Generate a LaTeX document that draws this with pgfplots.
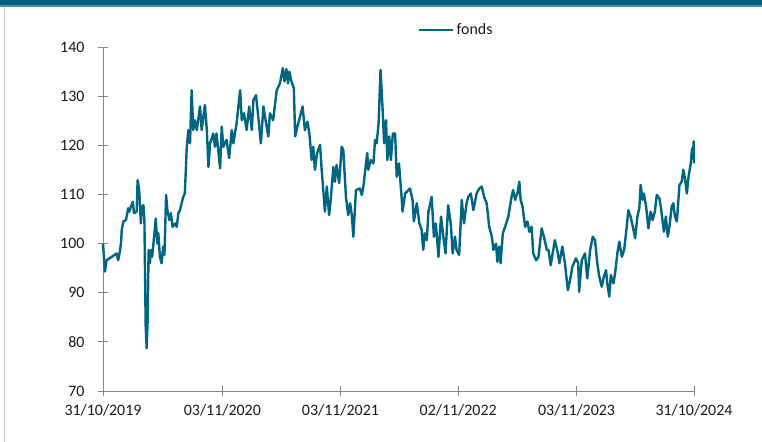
\documentclass[border=0pt]{standalone}
\usepackage{fontspec}
\setmainfont{Carlito}
\usepackage{pgfplots}
\pgfplotsset{compat=1.18}
\definecolor{fondline}{RGB}{0,101,128}
\definecolor{banner}{RGB}{0,95,122}
\definecolor{bannerlight}{RGB}{70,145,175}
\definecolor{axgray}{RGB}{134,134,134}
\begin{document}
\begin{tikzpicture}
\useasboundingbox (0,0) rectangle (762bp,442bp);
\fill[banner] (0,436.5bp) rectangle (762bp,442bp);
\fill[bannerlight] (0,435bp) rectangle (762bp,436.5bp);
\draw[gray!45, line width=1bp] (4.5bp,0) -- (4.5bp,435bp);
\begin{axis}[
  at={(103bp,51bp)}, anchor=south west,
  width=591bp, height=344bp, scale only axis,
  xmin=0, xmax=1827, ymin=70, ymax=140,
  axis x line*=bottom, axis y line*=left,
  axis line style={axgray, line width=0.8bp, -},
  tick style={axgray, line width=0.8bp},
  tick align=center, major tick length=10bp,
  xtick={0,369,734,1098,1464,1827},
  xticklabels={31/10/2019,03/11/2020,03/11/2021,02/11/2022,03/11/2023,31/10/2024},
  ytick={70,80,...,140},
  /pgf/number format/assume math mode=true,
  tick label style={font=\fontsize{16}{18}\selectfont, text=black!90},
  xticklabel style={yshift=-5bp},
  yticklabel style={xshift=-10bp},
  legend style={at={(0.533,1.049)}, anchor=west, draw=none, fill=none, inner sep=0pt,
    font=\fontsize{16}{18}\selectfont, text=black!90},
  legend image code/.code={\draw[#1, line width=2.5bp] (0bp,0bp) -- (34bp,0bp);},
  clip=false,
]
\addplot[fondline, line width=2.4bp, line join=round] coordinates {
(0,100) (6,94.3) (11,96.6) (27,97.3) (42,98) (47,96.6) (53,98.7) (56,100.4) (58,102.8) (63,104.5)
(71,104.8) (78,107.2) (81,106.5) (92,108.5) (96,106.2) (104,106.5) (107,112.9) (112,110.9) (117,104.1) (120,107.5)
(125,107.8) (128,104.8) (132,83.1) (135,78.7) (138,84.4) (141,98.7) (145,96) (148,98.7) (152,97.3) (159,102.1)
(163,105.1) (168,100) (171,102.1) (176,97.3) (181,96) (186,99.4) (190,97.7) (195,109.9) (199,106.8) (205,104.8)
(210,106.2) (215,103.4) (223,104.1) (228,103.4) (233,106.2) (238,106.8) (243,108.2) (248,109.5) (253,110.2) (259,119.7)
(264,123.1) (269,120.4) (274,131.2) (279,123.1) (284,125.1) (290,123.1) (300,127.9) (305,123.1) (315,128.2) (321,123.1)
(326,115.6) (331,120.4) (341,122.4) (346,119.7) (351,122.4) (362,115.3) (367,123.8) (372,119.7) (382,121.1) (390,117.4)
(398,123.1) (403,120.4) (413,124.5) (424,131.2) (429,125.1) (436,126.5) (444,123.1) (452,127.9) (460,123.1) (465,129.2)
(473,130.2) (480,125.8) (488,120.4) (496,127.9) (504,124.5) (511,121.8) (516,126.5) (526,125.1) (537,131.2) (547,132.6)
(556,135.7) (561,133) (567,135.5) (572,132.6) (576,135) (583,132.9) (590,131.6) (594,121.8) (601,123.8) (609,125.8)
(617,127.9) (624,123.1) (632,124.8) (638,122.4) (645,117) (650,119.7) (655,115) (662,118.4) (671,120.1) (676,115)
(681,110.9) (686,106.5) (692,111.6) (699,105.8) (704,108.9) (712,115.6) (717,112.6) (722,116) (730,112.3) (738,119.7)
(743,119) (751,109.5) (758,105.8) (764,108.2) (769,105.8) (774,101.4) (782,110.9) (794,111.2) (800,109.9) (805,111.6)
(813,116.3) (817,118.4) (820,115) (828,117) (836,116.3) (841,121.1) (846,120.4) (852,124.5) (858,135.3) (865,126.5)
(869,120.4) (875,125.1) (879,117) (885,121.8) (890,117) (896,122.4) (903,122.4) (908,113.6) (915,116.3) (923,109.5)
(926,106.5) (934,110.2) (949,111.2) (957,108.9) (961,104.5) (970,108.2) (978,104.1) (985,102.8) (990,98.7) (995,102.1)
(1001,100.7) (1006,106.5) (1016,109.5) (1023,101.4) (1029,104.1) (1037,97.3) (1045,105.5) (1052,101.4) (1059,98) (1067,107.8)
(1075,104.1) (1081,98) (1088,101.4) (1093,98.7) (1101,97.7) (1109,108.9) (1116,104.1) (1124,108.2) (1129,109.5) (1137,110.2)
(1145,106.8) (1155,110.2) (1163,111.2) (1171,111.6) (1178,109.5) (1186,108.2) (1194,103.4) (1202,101.4) (1207,98.7) (1215,100)
(1219,96.3) (1225,99.4) (1229,96) (1236,102.1) (1243,103.4) (1253,105.5) (1263,109.5) (1268,110.9) (1274,108.9) (1281,110.2)
(1287,112.6) (1291,108.9) (1297,107.5) (1305,103.4) (1312,104.5) (1318,102.4) (1325,103.4) (1330,98) (1339,96.6) (1346,97.3)
(1356,103.1) (1363,101.4) (1372,98.7) (1377,98.7) (1384,95.6) (1390,98) (1397,100.7) (1404,98.7) (1411,96) (1420,99.4)
(1428,96) (1437,90.5) (1444,92.6) (1451,95.3) (1462,97) (1469,96) (1472,90.2) (1480,96.6) (1490,98) (1497,92.9)
(1506,98.7) (1514,101.4) (1521,100.7) (1528,96) (1534,93.3) (1542,91.2) (1547,92.9) (1555,94.6) (1559,91.9) (1565,89.2)
(1570,93.6) (1578,91.9) (1583,93.9) (1590,98) (1596,100.4) (1604,97.3) (1611,98.7) (1619,103.4) (1624,106.8) (1631,105.5)
(1638,103.4) (1645,101.1) (1652,105.5) (1658,107.2) (1662,111.9) (1668,108.9) (1672,110.2) (1679,107.5) (1686,103.1) (1693,106.5)
(1699,104.8) (1706,106.5) (1712,109.9) (1720,109.2) (1725,107.2) (1730,104.5) (1734,102.4) (1740,105.5) (1746,101.4) (1751,103.4)
(1758,107.5) (1763,108.2) (1768,105.5) (1774,104.5) (1782,111.9) (1789,112.6) (1794,115) (1799,113.3) (1805,110.2) (1810,113.6)
(1817,116.3) (1821,119.4) (1824,118.4) (1826,120.8) (1827,116.3)
};
\addlegendentry{fonds}
\end{axis}
\end{tikzpicture}
\end{document}
